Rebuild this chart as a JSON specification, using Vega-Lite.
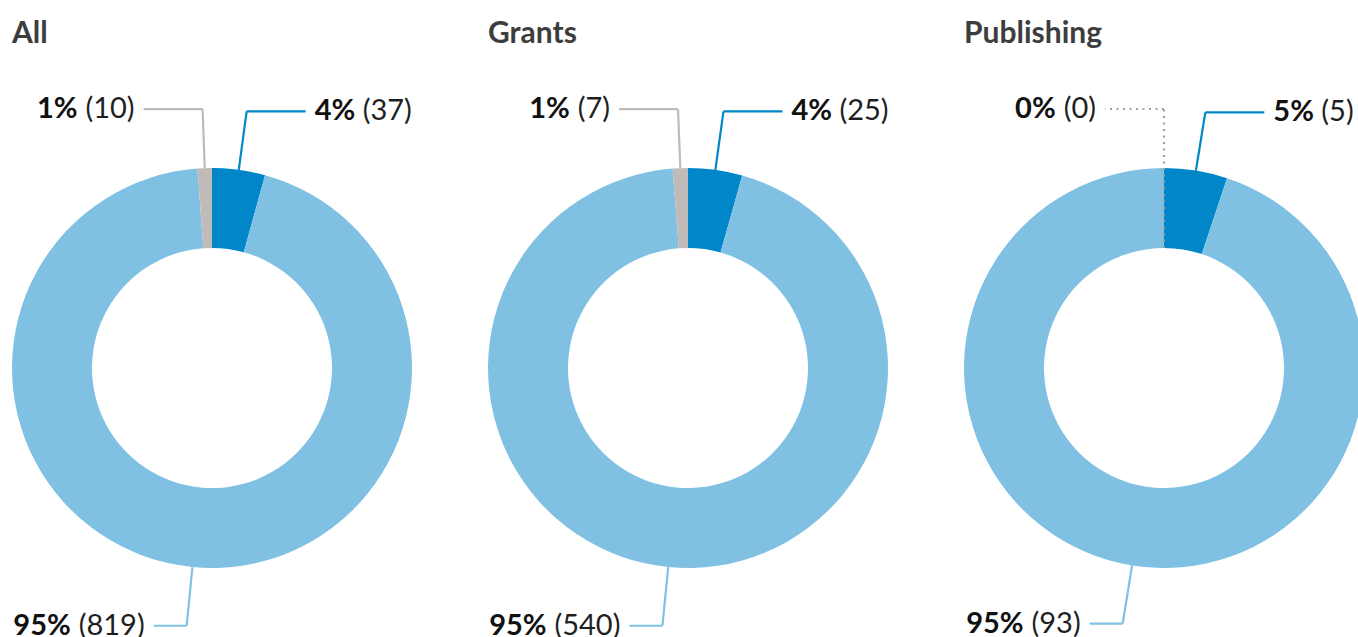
{
  "$schema": "https://vega.github.io/schema/vega-lite/v6.json",
  "autosize": {"type": "pad"},
  "padding": {"left": 12, "top": 19, "right": 0, "bottom": 0},
  "background": "white",
  "config": {"view": {"stroke": null}, "font": "Lato"},
  "data": {
    "values": [
      {"group": "All", "category": "Yes", "order": 1, "count": 37, "pct": 4},
      {"group": "All", "category": "No", "order": 2, "count": 819, "pct": 95},
      {"group": "All", "category": "Not specified", "order": 3, "count": 10, "pct": 1},
      {"group": "Grants", "category": "Yes", "order": 1, "count": 25, "pct": 4},
      {"group": "Grants", "category": "No", "order": 2, "count": 540, "pct": 95},
      {"group": "Grants", "category": "Not specified", "order": 3, "count": 7, "pct": 1},
      {"group": "Publishing", "category": "Yes", "order": 1, "count": 5, "pct": 5},
      {"group": "Publishing", "category": "No", "order": 2, "count": 93, "pct": 95},
      {"group": "Publishing", "category": "Not specified", "order": 3, "count": 0, "pct": 0}
    ]
  },
  "transform": [
    {"joinaggregate": [{"op": "sum", "field": "count", "as": "total"}], "groupby": ["group"]},
    {"window": [{"op": "sum", "field": "count", "as": "cum"}], "groupby": ["group"], "sort": [{"field": "order"}], "frame": [null, 0]},
    {"calculate": "2*PI*(datum.cum-datum.count)/datum.total", "as": "t0"},
    {"calculate": "2*PI*datum.cum/datum.total", "as": "t1"},
    {"calculate": "(datum.t0+datum.t1)/2", "as": "mid"},
    {"calculate": "datum.mid < PI ? 1 : -1", "as": "side"},
    {"calculate": "datum.count > 0 ? 200 : 120", "as": "r1"},
    {"calculate": "datum.r1*sin(datum.mid)", "as": "lx1"},
    {"calculate": "datum.r1*cos(datum.mid)", "as": "ly1"},
    {"calculate": "259*sin(datum.mid)", "as": "lx2"},
    {"calculate": "259*cos(datum.mid)", "as": "ly2"},
    {"calculate": "datum.lx2 + datum.side*(cos(datum.mid) > 0 ? 59 : 33)", "as": "lx3"},
    {"calculate": "datum.lx3 + datum.side*9", "as": "tx"},
    {"calculate": "datum.pct + '%'", "as": "boldText"},
    {"calculate": "'(' + datum.count + ')'", "as": "regText"},
    {"calculate": "datum.tx + 17*(length(datum.boldText)-1) + 24.5 + 6.5", "as": "regX"},
    {"calculate": "datum.tx - 16.8*length('' + datum.count) - 17 - 6.5", "as": "boldX"}
  ],
  "facet": {
    "column": {
      "field": "group",
      "type": "nominal",
      "sort": ["All", "Grants", "Publishing"],
      "header": {
        "title": null,
        "labelFont": "Lato",
        "labelFontSize": 30,
        "labelFontWeight": "bold",
        "labelColor": "#3d3d3d",
        "labelAnchor": "start",
        "labelAlign": "left",
        "labelPadding": 45
      }
    }
  },
  "spacing": 75,
  "spec": {
    "width": 400,
    "height": 520,
    "layer": [
      {
        "mark": {"type": "arc", "radius": 200, "innerRadius": 120},
        "encoding": {
          "x": {"datum": 0, "type": "quantitative", "scale": {"domain": [-200, 200], "nice": false, "zero": false}, "axis": null},
          "y": {"datum": 0, "type": "quantitative", "scale": {"domain": [-260, 260], "nice": false, "zero": false}, "axis": null},
          "theta": {"field": "t0", "type": "quantitative", "scale": null},
          "theta2": {"field": "t1"},
          "color": {"field": "category", "type": "nominal", "scale": {"domain": ["Yes", "No", "Not specified"], "range": ["#0086c9", "#80c1e3", "#c0bab8"]}, "legend": null}
        }
      },
      {
        "mark": {"type": "rule", "strokeWidth": 2.2},
        "encoding": {
          "x": {"field": "lx1", "type": "quantitative"},
          "y": {"field": "ly1", "type": "quantitative"},
          "x2": {"field": "lx2"},
          "y2": {"field": "ly2"},
          "color": {"condition": {"test": "datum.count == 0", "value": "#a39d9b"}, "field": "category", "type": "nominal", "legend": null},
          "strokeDash": {"condition": {"test": "datum.count == 0", "value": [2, 4.5]}, "value": [1, 0]}
        }
      },
      {
        "mark": {"type": "rule", "strokeWidth": 2.2},
        "encoding": {
          "x": {"field": "lx2", "type": "quantitative"},
          "y": {"field": "ly2", "type": "quantitative"},
          "x2": {"field": "lx3"},
          "color": {"condition": {"test": "datum.count == 0", "value": "#a39d9b"}, "field": "category", "type": "nominal", "legend": null},
          "strokeDash": {"condition": {"test": "datum.count == 0", "value": [2, 4.5]}, "value": [1, 0]}
        }
      },
      {
        "transform": [{"filter": "datum.side > 0"}],
        "mark": {"type": "text", "align": "left", "baseline": "middle", "fontSize": 29, "fontWeight": "bold", "color": "#111111", "font": "Lato"},
        "encoding": {"x": {"field": "tx", "type": "quantitative"}, "y": {"field": "ly2", "type": "quantitative"}, "text": {"field": "boldText"}}
      },
      {
        "transform": [{"filter": "datum.side > 0"}],
        "mark": {"type": "text", "align": "left", "baseline": "middle", "fontSize": 29, "color": "#1f1f1f", "font": "Lato"},
        "encoding": {"x": {"field": "regX", "type": "quantitative"}, "y": {"field": "ly2", "type": "quantitative"}, "text": {"field": "regText"}}
      },
      {
        "transform": [{"filter": "datum.side < 0"}],
        "mark": {"type": "text", "align": "right", "baseline": "middle", "fontSize": 29, "fontWeight": "bold", "color": "#111111", "font": "Lato"},
        "encoding": {"x": {"field": "boldX", "type": "quantitative"}, "y": {"field": "ly2", "type": "quantitative"}, "text": {"field": "boldText"}}
      },
      {
        "transform": [{"filter": "datum.side < 0"}],
        "mark": {"type": "text", "align": "right", "baseline": "middle", "fontSize": 29, "color": "#1f1f1f", "font": "Lato"},
        "encoding": {"x": {"field": "tx", "type": "quantitative"}, "y": {"field": "ly2", "type": "quantitative"}, "text": {"field": "regText"}}
      }
    ]
  }
}
